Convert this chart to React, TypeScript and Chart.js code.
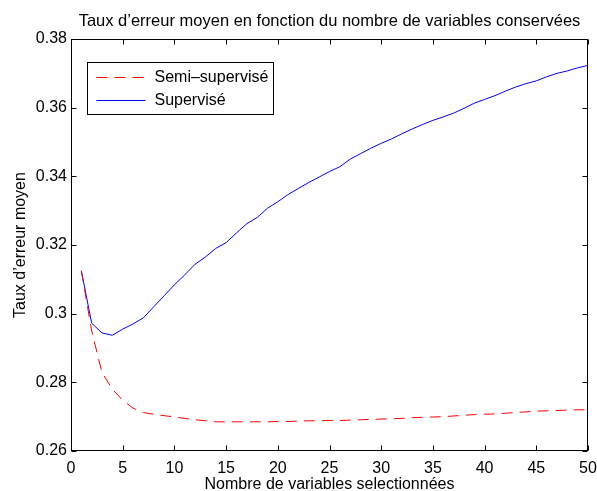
import React, { useEffect, useRef } from "react";
import { Chart, registerables } from "chart.js";

Chart.register(...registerables);

const FONT = "'Liberation Sans', Arial, Helvetica, sans-serif";

const chartTitle = "Taux d’erreur moyen en fonction du nombre de variables conservées";
const xTitle = "Nombre de variables selectionnées";
const yTitle = "Taux d’erreur moyen";

const variables = [
  1, 2, 3, 4, 5, 6, 7, 8, 9, 10,
  11, 12, 13, 14, 15, 16, 17, 18, 19, 20,
  21, 22, 23, 24, 25, 26, 27, 28, 29, 30,
  31, 32, 33, 34, 35, 36, 37, 38, 39, 40,
  41, 42, 43, 44, 45, 46, 47, 48, 49, 50,
];

const semiSupervise = [
  0.3125, 0.2950, 0.2828, 0.2780, 0.2748, 0.2725, 0.2712, 0.2707, 0.2703, 0.2699,
  0.2695, 0.2691, 0.2688, 0.2685, 0.2685, 0.2685, 0.2685, 0.2685, 0.2685, 0.2686,
  0.2686, 0.2687, 0.2688, 0.2688, 0.2689, 0.2689, 0.2690, 0.2691, 0.2692, 0.2693,
  0.2694, 0.2695, 0.2697, 0.2698, 0.2699, 0.2700, 0.2702, 0.2704, 0.2706, 0.2707,
  0.2708, 0.2710, 0.2712, 0.2714, 0.2716, 0.2717, 0.2718, 0.2719, 0.2720, 0.2720,
];

const supervise = [
  0.3125, 0.2972, 0.2944, 0.2937, 0.2955, 0.2970, 0.2988, 0.3020, 0.3052, 0.3084,
  0.3113, 0.3144, 0.3165, 0.3190, 0.3207, 0.3235, 0.3262, 0.3280, 0.3307, 0.3326,
  0.3347, 0.3365, 0.3382, 0.3398, 0.3414, 0.3428, 0.3450, 0.3466, 0.3482, 0.3496,
  0.3509, 0.3524, 0.3538, 0.3551, 0.3563, 0.3573, 0.3584, 0.3598, 0.3613, 0.3624,
  0.3635, 0.3648, 0.3660, 0.3670, 0.3678, 0.3690, 0.3700, 0.3707, 0.3716, 0.3723,
];

const seriesLabels = ["Semi–supervisé", "Supervisé"];

const boxPlugin = {
  id: "matlabBox",
  afterDatasetsDraw(chart: any) {
    const { ctx, chartArea, scales } = chart;
    const l = Math.round(chartArea.left) + 0.5;
    const r = Math.round(chartArea.right) - 0.5;
    const t = Math.round(chartArea.top) + 0.5;
    const b = Math.round(chartArea.bottom) - 0.5;
    ctx.save();
    ctx.strokeStyle = "#000";
    ctx.lineWidth = 1;
    ctx.setLineDash([]);
    ctx.strokeRect(l, t, r - l, b - t);
    const tl = 5;
    ctx.beginPath();
    scales.x.ticks.forEach((tk: any) => {
      const px = Math.round(scales.x.getPixelForValue(tk.value)) + 0.5;
      ctx.moveTo(px, b);
      ctx.lineTo(px, b - tl);
      ctx.moveTo(px, t);
      ctx.lineTo(px, t + tl);
    });
    scales.y.ticks.forEach((tk: any) => {
      const py = Math.round(scales.y.getPixelForValue(tk.value)) + 0.5;
      ctx.moveTo(l, py);
      ctx.lineTo(l + tl, py);
      ctx.moveTo(r, py);
      ctx.lineTo(r - tl, py);
    });
    ctx.stroke();

    // legend box inside the axes (MATLAB style)
    const bx = Math.round(chartArea.left + 16) + 0.5;
    const by = Math.round(chartArea.top + 23) + 0.5;
    const bw = 186;
    const bh = 52;
    ctx.fillStyle = "#fff";
    ctx.fillRect(bx, by, bw, bh);
    ctx.strokeStyle = "#000";
    ctx.strokeRect(bx, by, bw, bh);
    ctx.font = "16px " + FONT;
    ctx.textBaseline = "middle";
    ctx.textAlign = "left";
    chart.data.datasets.forEach((ds: any, i: number) => {
      const y = Math.round(by + 14.5 + i * 23) + 0.5;
      ctx.beginPath();
      ctx.strokeStyle = ds.borderColor;
      ctx.lineWidth = 1;
      ctx.setLineDash(ds.borderDash || []);
      ctx.moveTo(bx + 9, y);
      ctx.lineTo(bx + 58, y);
      ctx.stroke();
      ctx.setLineDash([]);
      ctx.fillStyle = "#000";
      ctx.fillText(ds.label, bx + 67, y);
    });
    ctx.restore();
  },
};

export default function App() {
  const ref = useRef<HTMLCanvasElement | null>(null);

  useEffect(() => {
    if (!ref.current) return;
    const chart = new Chart(ref.current, {
      type: "line",
      data: {
        datasets: [
          {
            label: seriesLabels[0],
            data: variables.map((v, i) => ({ x: v, y: semiSupervise[i] })),
            borderColor: "#ff0000",
            borderWidth: 1,
            borderDash: [11, 7],
            pointRadius: 0,
            fill: false,
            tension: 0,
          },
          {
            label: seriesLabels[1],
            data: variables.map((v, i) => ({ x: v, y: supervise[i] })),
            borderColor: "#0000ff",
            borderWidth: 1,
            pointRadius: 0,
            fill: false,
            tension: 0,
          },
        ],
      },
      options: {
        responsive: false,
        animation: false,
        layout: { padding: { left: 0, right: 9, top: 0, bottom: 0 }, autoPadding: false },
        plugins: {
          legend: { display: false },
          tooltip: { enabled: false },
          title: {
            display: true,
            text: chartTitle,
            fullSize: false,
            color: "#000",
            font: { family: FONT, size: 16.5, weight: "normal", lineHeight: 1.2 },
            padding: { top: 12, bottom: 7.2 },
          },
        },
        scales: {
          x: {
            type: "linear",
            min: 0,
            max: 50,
            grid: { display: false, drawTicks: false },
            border: { display: false },
            ticks: {
              stepSize: 5,
              color: "#000",
              padding: 7.5,
              maxRotation: 0,
              font: { family: FONT, size: 16 },
            },
            title: {
              display: true,
              text: xTitle,
              color: "#000",
              font: { family: FONT, size: 16, lineHeight: 0.8 },
              padding: { top: 0, bottom: 0 },
            },
            afterFit: (s: any) => {
              s.height = 40;
              s.paddingLeft = 0;
              s.paddingRight = 0;
            },
          },
          y: {
            type: "linear",
            min: 0.26,
            max: 0.38,
            grid: { display: false, drawTicks: false },
            border: { display: false },
            ticks: {
              stepSize: 0.02,
              color: "#000",
              padding: 4,
              font: { family: FONT, size: 16 },
              callback: (v: any) => String(Number(Number(v).toFixed(2))),
            },
            title: {
              display: true,
              text: yTitle,
              color: "#000",
              font: { family: FONT, size: 16 },
              padding: { top: 11, bottom: 0 },
            },
            afterFit: (s: any) => {
              s.width = 71;
              s.paddingTop = 0;
              s.paddingBottom = 0;
            },
          },
        },
      },
      plugins: [boxPlugin],
    });
    return () => chart.destroy();
  }, []);

  return (
    <div style={{ position: "absolute", left: 0, top: 0, width: 597, height: 491, background: "#fff" }}>
      <canvas ref={ref} width={597} height={491} />
    </div>
  );
}
